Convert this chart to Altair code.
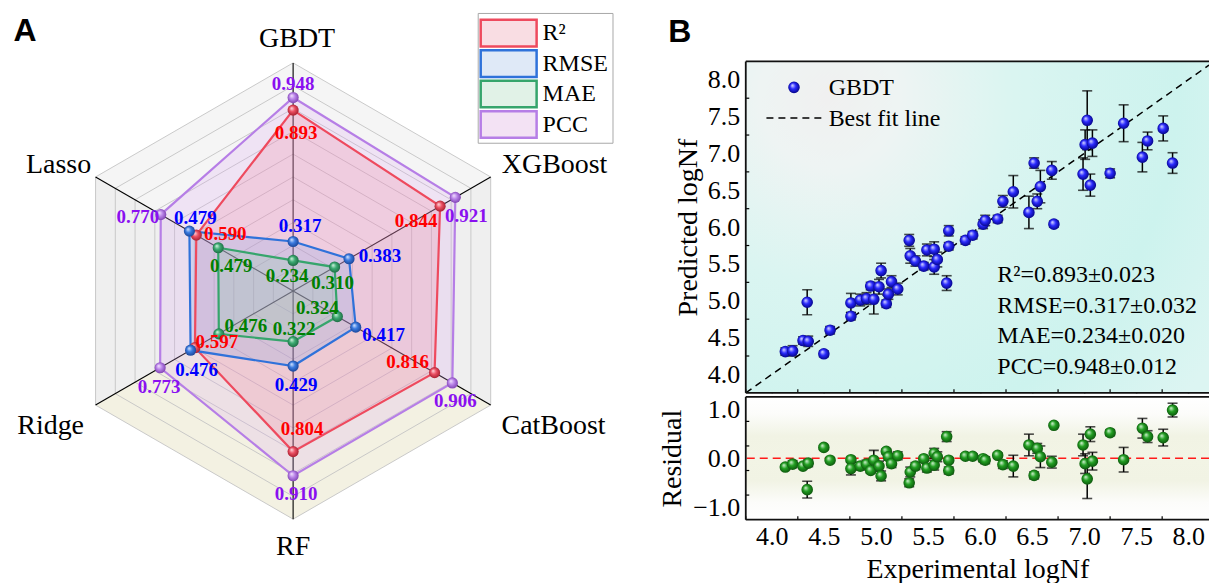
import math
import altair as alt
import pandas as pd

# ================= Panel A : radar chart data =================
models = ["GBDT", "XGBoost", "CatBoost", "RF", "Ridge", "Lasso"]
model_angles = [90, 30, -30, -90, -150, 150]
metrics = ["R²", "RMSE", "MAE", "PCC"]

r2_vals = [0.893, 0.844, 0.816, 0.804, 0.597, 0.590]
rmse_vals = [0.317, 0.383, 0.417, 0.429, 0.619, 0.625]
mae_vals = [0.234, 0.310, 0.324, 0.322, 0.476, 0.479]
pcc_vals = [0.948, 0.921, 0.906, 0.910, 0.773, 0.770]

r2_text = ["0.893", "0.844", "0.816", "0.804", "0.597", "0.590"]
rmse_text = ["0.317", "0.383", "0.417", "0.429", "0.476", "0.479"]
mae_text = ["0.234", "0.310", "0.324", "0.322", "0.476", "0.479"]
pcc_text = ["0.948", "0.921", "0.906", "0.910", "0.773", "0.770"]

metric_vals = {"R²": r2_vals, "RMSE": rmse_vals, "MAE": mae_vals, "PCC": pcc_vals}
metric_text = {"R²": r2_text, "RMSE": rmse_text, "MAE": mae_text, "PCC": pcc_text}

# label offsets in pixels (dx right, dy down)
label_dx = {"R²": [3, -24, -27, 9, 22, 29], "RMSE": [7, 31, 28, 3, 6, 6],
            "MAE": [-6, -2, -20, 1, 27, 13], "PCC": [0, 11, 3, 3, -1, -23]}
label_dy = {"R²": [23, 15, -11, -23, -6, -1], "RMSE": [-16, -3, 8, 19, 20, -13],
            "MAE": [16, 16, -9, -13, -8, 18], "PCC": [-14, 19, 18, 18, 19, 2]}
cat_dx = [4, 64, 63, 0, -45, -37]
cat_dy = [-24, -12, 21, 28, 21, -12]

line_colors = ["#ee4a5e", "#2f72da", "#36a56c", "#b67ee6"]
fill_colors = ["#f07c95", "#7aa6ea", "#86cda6", "#dca6f2"]
fill_opac = 0.22
text_colors = ["#ff0000", "#0000ff", "#008000", "#8a10f0"]
legend_fill = ["#f9dde3", "#dfe9f7", "#e1f2e7", "#f3e2f4"]
ball_colors = [("#ffe0e5", "#ec5064", "#a01a2a"),
               ("#dfeaff", "#3a7be0", "#173f90"),
               ("#dcf5e6", "#3cab72", "#1b6640"),
               ("#f6e8ff", "#bb86ea", "#7a3cad")]
sector_types = ["top", "side", "bottom", "bottom", "side", "top"]

R_PX, CX, CY, WA, HA = 228.5, 292.6, 290.0, 640, 583
RMIN, RMAX = 0.1, 1.1
FONT = "Liberation Serif"


def unit_xy(v, ang):
    rn = (v - RMIN) / (RMAX - RMIN)
    a = math.radians(ang)
    return rn * math.cos(a), rn * math.sin(a)


def ball(c0, c1, c2):
    return alt.RadialGradient(
        gradient="radial",
        stops=[alt.GradientStop(color=c0, offset=0), alt.GradientStop(color=c1, offset=0.45),
               alt.GradientStop(color=c2, offset=1)],
        x1=0.35, y1=0.32, r1=0, x2=0.5, y2=0.5, r2=0.55)


xsA = alt.Scale(domain=[-CX / R_PX, (WA - CX) / R_PX], nice=False, zero=False)
ysA = alt.Scale(domain=[-(HA - CY) / R_PX, CY / R_PX], nice=False, zero=False)


def XA(f):
    return alt.X(f, type="quantitative", scale=xsA, axis=None)


def YA(f):
    return alt.Y(f, type="quantitative", scale=ysA, axis=None)


# sectors
sec_rows = []
for k in range(6):
    a1, a2 = model_angles[k], model_angles[(k + 1) % 6]
    pts = [(0.0, 0.0), unit_xy(RMAX, a1), unit_xy(RMAX, a2), (0.0, 0.0)]
    for j, (x, y) in enumerate(pts):
        sec_rows.append(dict(sector=k, kind=sector_types[k], o=j, x=x, y=y))
sectors = alt.Chart(pd.DataFrame(sec_rows)).mark_line(strokeWidth=0, fillOpacity=1).encode(
    x=XA("x"), y=YA("y"), order="o:Q", detail="sector:N",
    fill=alt.Fill("kind:N", scale=alt.Scale(domain=["top", "side", "bottom"],
                                            range=["#f5f5f5", "#efefef", "#f3f1e2"]), legend=None))

ring_rows = []
for j in range(1, 11):
    v = RMIN + j * (RMAX - RMIN) / 10
    for i in range(7):
        x, y = unit_xy(v, model_angles[i % 6])
        ring_rows.append(dict(ring=j, o=i, x=x, y=y))
rings = alt.Chart(pd.DataFrame(ring_rows)).mark_line(color="#c4c4c4", strokeWidth=0.9).encode(
    x=XA("x"), y=YA("y"), order="o:Q", detail="ring:N")

spk_rows = []
for i, m in enumerate(models):
    x, y = unit_xy(RMAX, model_angles[i])
    spk_rows.append(dict(model=m, x0=0.0, y0=0.0, x1=x, y1=y))
spokes = alt.Chart(pd.DataFrame(spk_rows)).mark_rule(color="black", strokeWidth=1.1).encode(
    x=XA("x0"), y=YA("y0"), x2="x1:Q", y2="y1:Q")

poly_layers = []
point_layers = []
lab_rows = []
for mi, met in enumerate(metrics):
    rows = []
    for i in range(7):
        x, y = unit_xy(metric_vals[met][i % 6], model_angles[i % 6])
        rows.append(dict(metric=met, o=i, x=x, y=y))
    pdf = pd.DataFrame(rows)
    poly_layers.append((mi, pdf))
    prow = []
    for i, m in enumerate(models):
        x, y = unit_xy(metric_vals[met][i], model_angles[i])
        prow.append(dict(model=m, x=x, y=y))
        lab_rows.append(dict(metric=met, txt=metric_text[met][i],
                             lx=x + label_dx[met][i] / R_PX, ly=y - label_dy[met][i] / R_PX))
    point_layers.append(alt.Chart(pd.DataFrame(prow)).mark_circle(
        size=125, opacity=1, fill=ball(*ball_colors[mi])).encode(x=XA("x"), y=YA("y")))

order_draw = [3, 0, 1, 2]
fills = [alt.Chart(poly_layers[mi][1]).mark_line(
    stroke="transparent", fill=fill_colors[mi], fillOpacity=fill_opac).encode(
    x=XA("x"), y=YA("y"), order="o:Q") for mi in order_draw]
lines = [alt.Chart(poly_layers[mi][1]).mark_line(
    color=line_colors[mi], strokeWidth=2.2).encode(
    x=XA("x"), y=YA("y"), order="o:Q") for mi in order_draw]

labels = alt.Chart(pd.DataFrame(lab_rows)).mark_text(
    font=FONT, fontSize=19, fontWeight="bold", baseline="middle", align="center").encode(
    x=XA("lx"), y=YA("ly"), text="txt:N",
    color=alt.Color("metric:N", scale=alt.Scale(domain=metrics, range=text_colors), legend=None))

cat_rows = []
for i, m in enumerate(models):
    x, y = unit_xy(RMAX, model_angles[i])
    cat_rows.append(dict(model=m, cx=x + cat_dx[i] / R_PX, cy=y - cat_dy[i] / R_PX))
cats = alt.Chart(pd.DataFrame(cat_rows)).mark_text(
    font=FONT, fontSize=28, color="black", baseline="middle", align="center").encode(
    x=XA("cx"), y=YA("cy"), text="model:N")

one = pd.DataFrame({"t": ["A"]})
tagA = alt.Chart(one).mark_text(font="Liberation Sans", fontSize=32, fontWeight="bold",
                                color="black", baseline="middle").encode(
    x=alt.value(24), y=alt.value(30), text="t:N")

leg_box = alt.Chart(one).mark_rect(fill="white", stroke="#a8a8a8", strokeWidth=1).encode(
    x=alt.value(478), x2=alt.value(613), y=alt.value(12), y2=alt.value(142))
RECT_PATH = "M-1,-0.477L1,-0.477L1,0.477L-1,0.477Z"
leg_layers = [leg_box]
for i, met in enumerate(metrics):
    d = pd.DataFrame({"name": [met]})
    leg_layers.append(alt.Chart(d).mark_point(
        shape=RECT_PATH, size=3136, filled=True, fill=legend_fill[i], stroke=line_colors[i],
        strokeWidth=2.5, opacity=1).encode(x=alt.value(508.5), y=alt.value(31.7 + 30.5 * i)))
    leg_layers.append(alt.Chart(d).mark_text(
        font=FONT, fontSize=24, align="left", baseline="middle", color="black").encode(
        x=alt.value(542.5), y=alt.value(32 + 30.5 * i), text="name:N"))

radar = alt.layer(sectors, rings, spokes, *fills, *lines, *point_layers, labels, cats, tagA,
                  *leg_layers).properties(width=WA, height=HA,
                                          view=alt.ViewBackground(stroke="transparent"))

# ================= Panel B : GBDT predictions =================
exp_vals = [4.13, 4.20, 4.30, 4.35, 4.34, 4.50, 4.56, 4.76, 4.76, 4.85, 4.91, 4.95, 4.98,
            5.03, 5.05, 5.10, 5.12, 5.15, 5.21, 5.32, 5.33, 5.38, 5.46, 5.49, 5.56, 5.56,
            5.59, 5.68, 5.70, 5.70, 5.86, 5.93, 6.03, 6.05, 6.17, 6.22, 6.32, 6.47, 6.55,
            6.52, 6.58, 6.69, 6.71, 6.99, 7.01, 7.03, 7.06, 7.08, 7.25, 7.38, 7.56, 7.61,
            7.76, 7.85]
pred_vals = [4.31, 4.32, 4.46, 4.45, 4.98, 4.28, 4.60, 4.79, 4.97, 5.01, 5.03, 5.20, 5.02,
             5.19, 5.41, 4.96, 5.09, 5.26, 5.16, 5.82, 5.61, 5.54, 5.47, 5.69, 5.46, 5.70,
             5.56, 5.24, 5.74, 5.95, 5.82, 5.89, 6.04, 6.09, 6.11, 6.35, 6.48, 6.20, 6.35,
             6.87, 6.55, 6.77, 6.04, 6.72, 7.12, 7.45, 6.57, 7.14, 6.73, 7.41, 6.95, 7.17,
             7.34, 6.87]
err_vals = [0.05, 0.07, 0.05, 0.07, 0.17, 0.04, 0.05, 0.05, 0.13, 0.08, 0.08, 0.05, 0.20,
            0.10, 0.10, 0.05, 0.07, 0.08, 0.08, 0.08, 0.10, 0.07, 0.05, 0.08, 0.10, 0.10,
            0.10, 0.10, 0.05, 0.07, 0.05, 0.05, 0.06, 0.07, 0.05, 0.08, 0.22, 0.22, 0.10,
            0.07, 0.22, 0.12, 0.04, 0.22, 0.20, 0.40, 0.15, 0.18, 0.06, 0.25, 0.20, 0.12,
            0.17, 0.14]
fit_slope, fit_intercept = 1.0, 0.0
x_ticks = [4.0, 4.5, 5.0, 5.5, 6.0, 6.5, 7.0, 7.5, 8.0]
x_minor = [3.75, 4.25, 4.75, 5.25, 5.75, 6.25, 6.75, 7.25, 7.75]
y_ticks = [4.0, 4.5, 5.0, 5.5, 6.0, 6.5, 7.0, 7.5, 8.0]
y_minor = [4.25, 4.75, 5.25, 5.75, 6.25, 6.75, 7.25, 7.75]
r_ticks = [-1.0, -0.5, 0.0, 0.5, 1.0]
r_minor = [-0.75, -0.25, 0.25, 0.75]
stats_lines = ["R²=0.893±0.023", "RMSE=0.317±0.032", "MAE=0.234±0.020", "PCC=0.948±0.012"]

dfB = pd.DataFrame({"exp": exp_vals, "pred": pred_vals, "err": err_vals})
dfB["res"] = dfB["exp"] - dfB["pred"]
dfB["plo"] = dfB["pred"] - dfB["err"]
dfB["phi"] = dfB["pred"] + dfB["err"]
dfB["rlo"] = dfB["res"] - dfB["err"]
dfB["rhi"] = dfB["res"] + dfB["err"]

WB, HT, HR = 464, 332, 123
xsB = alt.Scale(domain=[3.75, 8.2], nice=False, zero=False)
ysT = alt.Scale(domain=[3.75, 8.25], nice=False, zero=False)
ysR = alt.Scale(domain=[-1.25, 1.25], nice=False, zero=False)

ax_common = dict(tickSize=6, offset=-6, domain=False, grid=False, tickColor="black",
                 tickWidth=1.5, labelFont=FONT, labelFontSize=26, labelColor="black",
                 titleFont=FONT, titleFontSize=28, titleFontWeight="normal", titleColor="black")
x_ax_top = alt.Axis(values=x_ticks, labels=False, title=None, **ax_common)
x_ax_res = alt.Axis(values=x_ticks, format=".1f", title="Experimental logNf", labelPadding=4,
                    titlePadding=6, **ax_common)
y_ax_top = alt.Axis(values=y_ticks, format=".1f", title="Predicted logNf", labelPadding=6,
                    titlePadding=5, **ax_common)
y_ax_res = alt.Axis(values=r_ticks, format=".1f", title="Residual", labelPadding=6,
                    titlePadding=6, **ax_common)

blue_ball = ball("#e4e4ff", "#2a2aff", "#00007a")
green_ball = ball("#dcf5dc", "#22a022", "#0a4d0a")


def frame(W, H):
    d = pd.DataFrame({"a": [0]})
    left = alt.Chart(d).mark_rule(color="#111111", strokeWidth=1.8).encode(
        x=alt.value(0), y=alt.value(0), y2=alt.value(H))
    top = alt.Chart(d).mark_rule(color="#111111", strokeWidth=1.8).encode(
        x=alt.value(0), x2=alt.value(W), y=alt.value(0))
    bot = alt.Chart(d).mark_rule(color="#111111", strokeWidth=1.8).encode(
        x=alt.value(0), x2=alt.value(W), y=alt.value(H))
    return [left, top, bot]


def minor_ticks(xvals, yvals, xscale, yscale, xaxis, yaxis, H):
    mx = alt.Chart(pd.DataFrame({"mx": xvals})).mark_rule(color="black", strokeWidth=1.2).encode(
        x=alt.X("mx:Q", scale=xscale, axis=xaxis), y=alt.value(H - 3.5), y2=alt.value(H))
    my = alt.Chart(pd.DataFrame({"my": yvals})).mark_rule(color="black", strokeWidth=1.2).encode(
        y=alt.Y("my:Q", scale=yscale, axis=yaxis), x=alt.value(0), x2=alt.value(3.5))
    return [mx, my]


bg_top_grad = alt.RadialGradient(
    gradient="radial", x1=0.18, y1=0.22, r1=0, x2=0.18, y2=0.22, r2=1.0,
    stops=[alt.GradientStop(color="#f0f0f0", offset=0), alt.GradientStop(color="#eef4f3", offset=0.15),
           alt.GradientStop(color="#daf5f1", offset=0.4), alt.GradientStop(color="#cdf3ee", offset=0.75),
           alt.GradientStop(color="#dcf5f2", offset=1)])
bg_top = alt.Chart(one).mark_rect(fill=bg_top_grad).encode(
    x=alt.value(0), x2=alt.value(WB), y=alt.value(0), y2=alt.value(HT))

fit_df = pd.DataFrame({"fx": [3.75, 8.2]})
fit_df["fy"] = fit_slope * fit_df["fx"] + fit_intercept
fit = alt.Chart(fit_df).mark_line(color="black", strokeWidth=1.5, strokeDash=[7, 5], clip=True).encode(
    x=alt.X("fx:Q", scale=xsB, axis=x_ax_top), y=alt.Y("fy:Q", scale=ysT, axis=y_ax_top))

baseT = alt.Chart(dfB)
eb_t = baseT.mark_rule(color="black", strokeWidth=1.5).encode(
    x=alt.X("exp:Q", scale=xsB, axis=x_ax_top), y=alt.Y("plo:Q", scale=ysT, axis=y_ax_top), y2="phi:Q")
cap_t1 = baseT.mark_tick(orient="horizontal", size=10, thickness=1.6, color="black").encode(
    x=alt.X("exp:Q", scale=xsB, axis=x_ax_top), y=alt.Y("plo:Q", scale=ysT, axis=y_ax_top))
cap_t2 = baseT.mark_tick(orient="horizontal", size=10, thickness=1.6, color="black").encode(
    x=alt.X("exp:Q", scale=xsB, axis=x_ax_top), y=alt.Y("phi:Q", scale=ysT, axis=y_ax_top))
pts_t = baseT.mark_circle(size=135, opacity=1, fill=blue_ball).encode(
    x=alt.X("exp:Q", scale=xsB, axis=x_ax_top), y=alt.Y("pred:Q", scale=ysT, axis=y_ax_top))

legB_pt = alt.Chart(one).mark_circle(size=135, opacity=1, fill=blue_ball).encode(
    x=alt.value(48.3), y=alt.value(26))
legB_t1 = alt.Chart(pd.DataFrame({"t": ["GBDT"]})).mark_text(
    font=FONT, fontSize=24, align="left", baseline="middle", color="black").encode(
    x=alt.value(83), y=alt.value(27), text="t:N")
legB_ln = alt.Chart(one).mark_rule(color="black", strokeWidth=1.5, strokeDash=[7, 5]).encode(
    x=alt.value(20.7), x2=alt.value(77.3), y=alt.value(56.7))
legB_t2 = alt.Chart(pd.DataFrame({"t": ["Best fit line"]})).mark_text(
    font=FONT, fontSize=24, align="left", baseline="middle", color="black").encode(
    x=alt.value(83), y=alt.value(57.5), text="t:N")

stat_layers = []
for i, s in enumerate(stats_lines):
    stat_layers.append(alt.Chart(pd.DataFrame({"t": [s]})).mark_text(
        font=FONT, fontSize=24, align="left", baseline="middle", color="black").encode(
        x=alt.value(252), y=alt.value(214 + 30.6 * i), text="t:N"))

top_chart = alt.layer(bg_top, fit, eb_t, cap_t1, cap_t2, pts_t, legB_pt, legB_t1, legB_ln, legB_t2,
                      *stat_layers, *minor_ticks(x_minor, y_minor, xsB, ysT, x_ax_top, y_ax_top, HT),
                      *frame(WB, HT)).properties(
    width=WB, height=HT, view=alt.ViewBackground(stroke="transparent"))

bg_res_grad = alt.LinearGradient(
    gradient="linear", x1=0, y1=0, x2=0, y2=1,
    stops=[alt.GradientStop(color="#ffffff", offset=0), alt.GradientStop(color="#fcfcfa", offset=0.14),
           alt.GradientStop(color="#f1f3e4", offset=0.32), alt.GradientStop(color="#f2f4e5", offset=0.5),
           alt.GradientStop(color="#f1f3e4", offset=0.68), alt.GradientStop(color="#fcfcfa", offset=0.86),
           alt.GradientStop(color="#ffffff", offset=1)])
bg_res = alt.Chart(one).mark_rect(fill=bg_res_grad).encode(
    x=alt.value(0), x2=alt.value(WB), y=alt.value(0), y2=alt.value(HR))
zero = alt.Chart(pd.DataFrame({"z": [0.0]})).mark_rule(
    color="#ff1a1a", strokeWidth=1.6, strokeDash=[8, 5]).encode(
    y=alt.Y("z:Q", scale=ysR, axis=y_ax_res))
baseR = alt.Chart(dfB)
eb_r = baseR.mark_rule(color="black", strokeWidth=1.5).encode(
    x=alt.X("exp:Q", scale=xsB, axis=x_ax_res), y=alt.Y("rlo:Q", scale=ysR, axis=y_ax_res), y2="rhi:Q")
cap_r1 = baseR.mark_tick(orient="horizontal", size=10, thickness=1.6, color="black").encode(
    x=alt.X("exp:Q", scale=xsB, axis=x_ax_res), y=alt.Y("rlo:Q", scale=ysR, axis=y_ax_res))
cap_r2 = baseR.mark_tick(orient="horizontal", size=10, thickness=1.6, color="black").encode(
    x=alt.X("exp:Q", scale=xsB, axis=x_ax_res), y=alt.Y("rhi:Q", scale=ysR, axis=y_ax_res))
pts_r = baseR.mark_circle(size=135, opacity=1, fill=green_ball).encode(
    x=alt.X("exp:Q", scale=xsB, axis=x_ax_res), y=alt.Y("res:Q", scale=ysR, axis=y_ax_res))

res_chart = alt.layer(bg_res, zero, eb_r, cap_r1, cap_r2, pts_r,
                      *minor_ticks(x_minor, r_minor, xsB, ysR, x_ax_res, y_ax_res, HR),
                      *frame(WB, HR)).properties(
    width=WB, height=HR, view=alt.ViewBackground(stroke="transparent"))

spacer = alt.Chart(pd.DataFrame({"t": ["B"]})).mark_text(
    font="Liberation Sans", fontSize=32, fontWeight="bold", color="black", baseline="middle").encode(
    x=alt.value(-66), y=alt.value(31), text="t:N").properties(
    width=WB, height=56, view=alt.ViewBackground(stroke="transparent"))

right = alt.vconcat(spacer, top_chart, res_chart, spacing=4, bounds="flush")
chart = alt.hconcat(radar, right, spacing=106, bounds="flush").properties(
    padding=0, background="white").configure(font=FONT).configure_view(stroke="transparent")

chart.save("out.html", embed_options={"renderer": "svg", "actions": False})
